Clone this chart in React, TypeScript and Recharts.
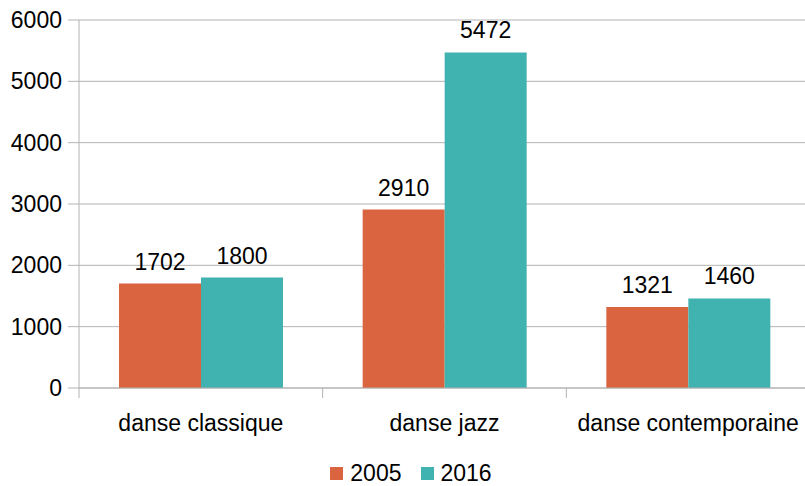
import { BarChart, Bar, XAxis, YAxis, CartesianGrid, Legend, LabelList } from "recharts";

const categories = ["danse classique", "danse jazz", "danse contemporaine"];
const values2005 = [1702, 2910, 1321];
const values2016 = [1800, 5472, 1460];
const yTicks = [0, 1000, 2000, 3000, 4000, 5000, 6000];

const data = categories.map((name, i) => ({
  name,
  y2005: values2005[i],
  y2016: values2016[i],
}));

const FONT = "'Liberation Sans', Arial, sans-serif";
const FS = 23;
const GRID = "#b3b3b3";
const ORANGE = "#d9643f";
const TEAL = "#40b2b0";

// plot runs a little past the right edge of the picture
const CHART_W = 810;
const PLOT_LEFT = 79;
const BAND = (CHART_W - PLOT_LEFT) / categories.length;

function CategoryTick(props: any) {
  const { x, y, payload, index } = props;
  const left = x - BAND / 2;
  return (
    <g>
      <line x1={left} y1={y} x2={left} y2={y + 10} stroke={GRID} />
      {index === categories.length - 1 && (
        <line x1={x + BAND / 2 - 1} y1={y} x2={x + BAND / 2 - 1} y2={y + 10} stroke={GRID} />
      )}
      <text x={x} y={y + 35} textAnchor="middle" dominantBaseline="central" fontSize={FS} fill="#000" fontFamily={FONT}>
        {payload.value}
      </text>
    </g>
  );
}

function LegendContent() {
  const items = [
    { label: "2005", color: ORANGE },
    { label: "2016", color: TEAL },
  ];
  return (
    <div style={{ display: "flex", justifyContent: "center", alignItems: "center", gap: 19, marginTop: 12, paddingLeft: 12, fontFamily: FONT, fontSize: FS, lineHeight: "26px", color: "#000" }}>
      {items.map((it) => (
        <div key={it.label} style={{ display: "flex", alignItems: "center", gap: 7 }}>
          <span style={{ display: "inline-block", width: 13, height: 13, background: it.color }} />
          <span>{it.label}</span>
        </div>
      ))}
    </div>
  );
}

export default function App() {
  return (
    <div style={{ position: "absolute", left: 0, top: 0, width: 805, height: 486, overflow: "hidden", background: "#fff" }}>
      <BarChart
        width={CHART_W}
        height={486}
        data={data}
        margin={{ top: 20, right: 0, bottom: 0, left: 0 }}
        barCategoryGap={40}
        barGap={0}
      >
        <CartesianGrid horizontal vertical={false} stroke={GRID} />
        <XAxis
          dataKey="name"
          height={60}
          axisLine={{ stroke: GRID }}
          tickLine={false}
          tickSize={0}
          tickMargin={0}
          tick={<CategoryTick />}
          interval={0}
        />
        <YAxis
          width={PLOT_LEFT}
          domain={[0, 6000]}
          ticks={yTicks}
          interval={0}
          axisLine={{ stroke: GRID }}
          tickLine={{ stroke: GRID }}
          tickSize={11}
          tickMargin={6}
          tick={{ fontSize: FS, fill: "#000", fontFamily: FONT }}
        />
        <Legend verticalAlign="bottom" height={38} content={<LegendContent />} />
        <Bar dataKey="y2005" name="2005" fill={ORANGE} isAnimationActive={false}>
          <LabelList dataKey="y2005" position="top" offset={14} fontSize={FS} fill="#000" fontFamily={FONT} />
        </Bar>
        <Bar dataKey="y2016" name="2016" fill={TEAL} isAnimationActive={false}>
          <LabelList dataKey="y2016" position="top" offset={14} fontSize={FS} fill="#000" fontFamily={FONT} />
        </Bar>
      </BarChart>
    </div>
  );
}
